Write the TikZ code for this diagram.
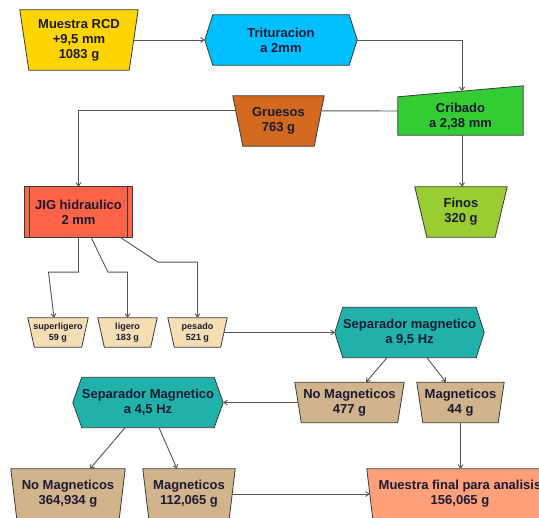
\documentclass[tikz,border=0pt]{standalone}
\usepackage{fontspec}
\setmainfont{Liberation Sans}
\usetikzlibrary{calc,arrows.meta,backgrounds}
\definecolor{cGold}{HTML}{FFD500}
\definecolor{cSky}{HTML}{00BFFF}
\definecolor{cGreen}{HTML}{33CC33}
\definecolor{cChoc}{HTML}{D2691E}
\definecolor{cYG}{HTML}{9ACD32}
\definecolor{cTomato}{HTML}{FF6347}
\definecolor{cWheat}{HTML}{F5DEB3}
\definecolor{cTeal}{HTML}{20B2AA}
\definecolor{cTan}{HTML}{D2B48C}
\definecolor{cSalmon}{HTML}{FFA07A}
\definecolor{cText}{HTML}{1A1A33}
\definecolor{cBorder}{HTML}{3A3A3A}
\definecolor{cLine}{HTML}{555555}
\tikzset{
  lbl/.style={font=\bfseries\fontsize{13}{15}\selectfont, text=cText, align=center, inner sep=0pt},
  smalllbl/.style={font=\bfseries\fontsize{9}{11}\selectfont, text=cText, align=center, inner sep=0pt},
  frame/.style={draw=cBorder, line width=0.8pt, line join=miter},
  conn/.style={draw=cLine, line width=0.9pt},
  arr/.style={conn, -{Straight Barb[length=3.5pt,width=5pt]}},
}
\newcommand{\trapshape}[3]{\filldraw[frame, fill=#2] (#1.north west) -- (#1.north east) -- ($(#1.south east)+(-#3,0)$) -- ($(#1.south west)+(#3,0)$) -- cycle;}
\newcommand{\hexshape}[3]{\filldraw[frame, fill=#2] ($(#1.north west)+(#3,0)$) -- ($(#1.north east)+(-#3,0)$) -- (#1.east) -- ($(#1.south east)+(-#3,0)$) -- ($(#1.south west)+(#3,0)$) -- (#1.west) -- cycle;}
\begin{document}
\begin{tikzpicture}[x=1pt,y=-1pt]
\useasboundingbox (0,0) rectangle (539,518);

% nodes
\node[lbl, minimum width=118pt, minimum height=60pt] (rcd) at (79,40) {Muestra RCD\\+9,5 mm\\1083 g};
\node[lbl, minimum width=152pt, minimum height=50pt] (tri) at (281,40) {Trituracion\\a 2mm};
\node[lbl, minimum width=125pt, minimum height=38pt] (cri) at (460.5,116) {Cribado\\a 2,38 mm};
\node[lbl, minimum width=91pt, minimum height=50pt] (gru) at (278.5,121) {Gruesos\\763 g};
\node[lbl, minimum width=92pt, minimum height=50pt] (fin) at (461,212) {Finos\\320 g};
\node[lbl, minimum width=107pt, minimum height=50pt] (jig) at (78.5,212) {JIG hidraulico\\2 mm};
\node[smalllbl, minimum width=60pt, minimum height=29pt] (sup) at (58,332.5) {superligero\\59 g};
\node[smalllbl, minimum width=59pt, minimum height=29pt] (lig) at (127.5,332.5) {ligero\\183 g};
\node[smalllbl, minimum width=59pt, minimum height=29pt] (pes) at (197.5,332.5) {pesado\\521 g};
\node[lbl, minimum width=149pt, minimum height=50pt] (sep1) at (409.5,332.5) {Separador magnetico\\a 9,5 Hz};
\node[lbl, minimum width=109pt, minimum height=40pt] (nm1) at (349.5,402.5) {No Magneticos\\477 g};
\node[lbl, minimum width=87pt, minimum height=40pt] (mg1) at (460.5,402.5) {Magneticos\\44 g};
\node[lbl, minimum width=150pt, minimum height=50pt] (sep2) at (148,402.5) {Separador Magnetico\\a 4,5 Hz};
\node[lbl, minimum width=114pt, minimum height=50pt] (nm2) at (68,494) {No Magneticos\\364,934 g};
\node[lbl, minimum width=92pt, minimum height=50pt] (mg2) at (189,494) {Magneticos\\112,065 g};
\node[lbl, minimum width=186pt, minimum height=50pt] (fin2) at (460,494) {Muestra final para analisis\\156,065 g};

% shapes
\begin{pgfonlayer}{background}
\fill[white] (0,0) rectangle (539,518);
\trapshape{rcd}{cGold}{9}
\hexshape{tri}{cSky}{8}
\filldraw[frame, fill=cGreen] (cri.north west) -- ($(cri.north east)+(0,-11)$) -- (cri.south east) -- (cri.south west) -- cycle;
\trapshape{gru}{cChoc}{10}
\trapshape{fin}{cYG}{12}
\filldraw[frame, fill=cTomato] (jig.north west) rectangle (jig.south east);
\draw[frame] ($(jig.north west)+(5,0)$) -- ($(jig.south west)+(5,0)$);
\draw[frame] ($(jig.north east)+(-5,0)$) -- ($(jig.south east)+(-5,0)$);
\trapshape{sup}{cWheat}{6.5}
\trapshape{lig}{cWheat}{6.5}
\trapshape{pes}{cWheat}{6.5}
\hexshape{sep1}{cTeal}{8}
\trapshape{nm1}{cTan}{6.5}
\trapshape{mg1}{cTan}{6}
\hexshape{sep2}{cTeal}{9}
\trapshape{nm2}{cTan}{6}
\trapshape{mg2}{cTan}{6}
\trapshape{fin2}{cSalmon}{6}
\end{pgfonlayer}

% connectors
\coordinate (cs) at ($(cri.south)+(1.5,0)$);
\draw[arr] ($(rcd.east)+(-4.5,0)$) -- (tri.west);
\draw[arr] (tri.east) -| ($(cri.north)+(1.5,-5.6)$);
\draw[conn] ($(cri.west)+(0,-5)$) -- ($(gru.north east)+(-3,15)$);
\draw[arr] ($(gru.north west)+(3,15)$) -| (jig.north);
\draw[arr] (cs) -- (cs |- fin.north);
\draw[arr] (jig.south) -- ++(0,35) -- ++(-30,0) -- ($(sup.north)+(-4,0)$);
\draw[arr] ($(jig.south)+(12.5,0)$) -- ($(jig.south)+(29.5,35)$) -| (lig.north);
\draw[arr] ($(jig.south)+(41.5,0)$) -- ($(jig.south)+(79.5,25)$) -| (pes.north);
\draw[arr] ($(pes.east)+(-3.2,0)$) -- (sep1.west);
\draw[arr] ($(sep1.south)+(-22.5,0)$) -- ($(nm1.north)+(16.5,0)$);
\draw[arr] ($(sep1.south)+(17.5,0)$) -- ($(mg1.north)+(-14.5,0)$);
\draw[arr] ($(nm1.west)+(3.25,0)$) -- (sep2.east);
\draw[arr] ($(sep2.south)+(-23,0)$) -- ($(nm2.north)+(22,0)$);
\draw[arr] ($(sep2.south)+(11,0)$) -- ($(mg2.north)+(-12,0)$);
\draw[arr] (mg1.south) -- (mg1.south |- fin2.north);
\draw[arr] ($(mg2.east)+(-3,0)$) -- ($(fin2.west)+(3,0)$);
\end{tikzpicture}
\end{document}
